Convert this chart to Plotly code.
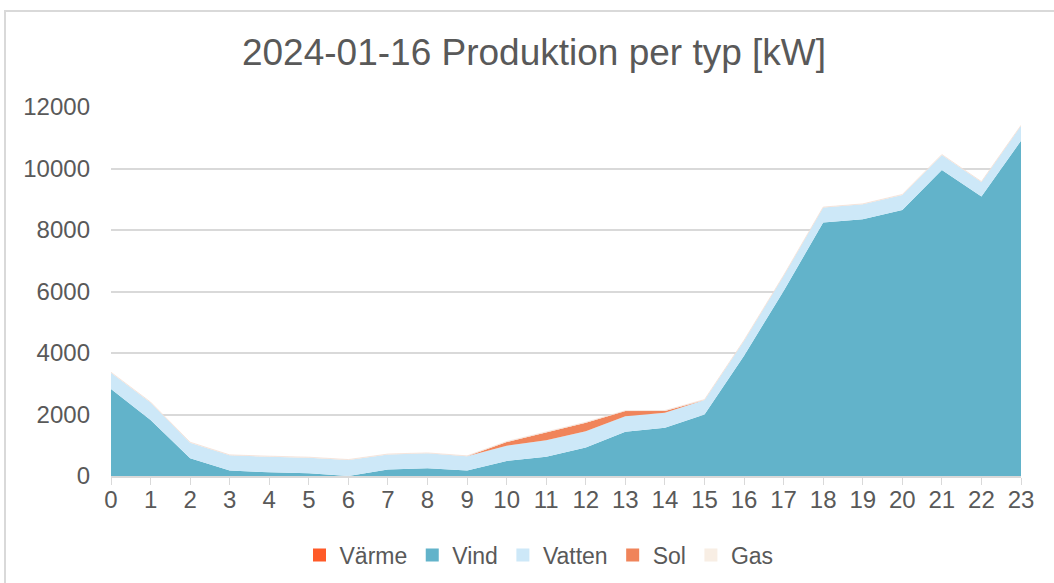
import plotly.graph_objects as go

hours = list(range(24))
varme = [0] * 24
vind = [2830, 1820, 580, 175, 120, 90, 0, 210, 250, 175, 490, 630, 930, 1440,
        1570, 2000, 3910, 6020, 8240, 8350, 8650, 9950, 9090, 10900]
vatten = [530, 570, 505, 497, 510, 507, 520, 490, 487, 465, 496, 530, 522, 500,
          490, 470, 490, 490, 490, 485, 490, 490, 470, 490]
sol = [0, 0, 0, 0, 0, 0, 0, 0, 0, 0, 120, 260, 280, 170, 55, 0, 0, 0, 0, 0, 0, 0, 0, 0]
gas = [15] * 24

series = [
    ("Värme", varme, "#FF5A28"),
    ("Vind", vind, "#62B3CA"),
    ("Vatten", vatten, "#CDE8F8"),
    ("Sol", sol, "#F0845A"),
    ("Gas", gas, "#F8EEE4"),
]

fig = go.Figure()
for name, vals, col in series:
    fig.add_trace(go.Scatter(
        x=hours, y=vals, name=name, mode="lines", stackgroup="one",
        line=dict(width=0.6 if name == "Gas" else 0,
                  color="#F2D8CC" if name == "Gas" else col),
        fillcolor=col, showlegend=False, hoverinfo="skip",
    ))
# legend entries with square symbols
for name, vals, col in series:
    fig.add_trace(go.Scatter(
        x=[None], y=[None], name=name, mode="markers",
        marker=dict(symbol="square", size=13, color=col, line=dict(width=0)),
        showlegend=True,
    ))

fig.update_layout(
    width=1054, height=583,
    margin=dict(l=111, r=33, t=107, b=107, autoexpand=False),
    paper_bgcolor="white", plot_bgcolor="white",
    font=dict(family="Liberation Sans, Arial, sans-serif", color="#595959", size=24),
    title=dict(text="2024-01-16 Produktion per typ [kW]", x=534 / 1054, xanchor="center",
               y=1 - 52 / 583, yanchor="middle", font=dict(size=37, color="#595959")),
    showlegend=True,
    legend=dict(orientation="h", x=(539 - 111) / 910, xanchor="center",
                yref="container", y=1 - 555 / 583,
                yanchor="middle", font=dict(size=23, color="#595959"),
                traceorder="normal", itemwidth=30),
    xaxis=dict(range=[0, 23], tickmode="array", tickvals=hours,
               ticktext=[str(h) for h in hours], showgrid=False,
               showline=True, linecolor="#d9d9d9", linewidth=1.5,
               ticks="outside", ticklen=7, tickcolor="#d9d9d9",
               tickfont=dict(size=24, color="#595959"), zeroline=False,
               ticklabelstandoff=-6, automargin=False),
    yaxis=dict(range=[0, 12000], tickvals=[0, 2000, 4000, 6000, 8000, 10000, 12000],
               tickformat="d", showgrid=True, gridcolor="#d9d9d9", gridwidth=1.5,
               showline=False, zeroline=False, ticks="",
               tickfont=dict(size=24, color="#595959"), ticklabelstandoff=20,
               automargin=False),
)

fig.add_shape(type="rect", xref="paper", yref="paper",
              x0=(5 - 111) / 910, x1=(1070 - 111) / 910,
              y0=(476 - 600) / 369, y1=(476 - 11) / 369,
              line=dict(color="#d9d9d9", width=2), fillcolor="rgba(0,0,0,0)",
              layer="below")

fig.write_html("out.html", config={"displayModeBar": False},
               post_script="document.body.style.margin='0';")
